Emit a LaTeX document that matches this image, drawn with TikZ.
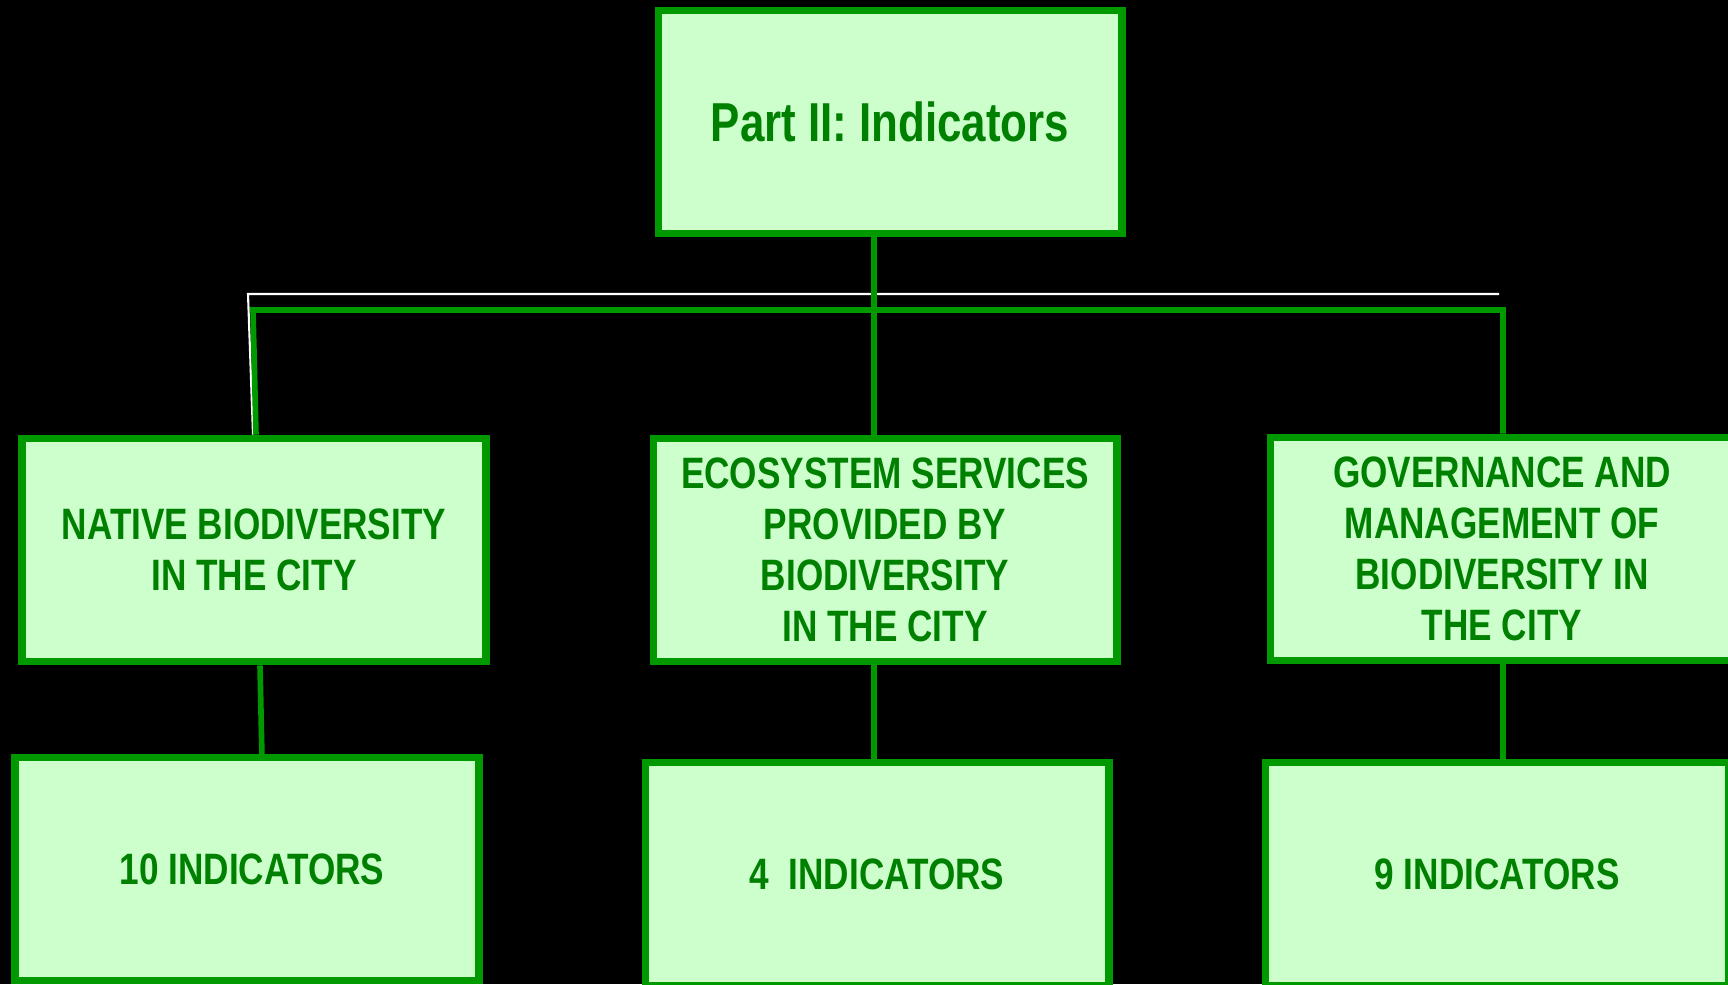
\documentclass[tikz,border=0pt]{standalone}
\usepackage{fontspec}
\newfontfamily\narrowsans{Liberation Sans}[FakeStretch=0.8]
\definecolor{boxfill}{HTML}{CCFFCC}
\definecolor{boxline}{HTML}{009900}
\definecolor{boxtext}{HTML}{008000}
\begin{document}
\begin{tikzpicture}[x=0.01cm, y=-0.01cm,
  main/.style = {draw=boxline, fill=boxfill, line width=2.2pt, minimum width=4.63cm, minimum height=2.23cm, inner sep=0pt, align=center, text=boxtext, font=\narrowsans\bfseries\fontsize{12.5}{14.5}\selectfont},
  link/.style = {draw=boxline, line width=1.6pt},
  rim/.style = {draw=white, line width=0.6pt}]
\useasboundingbox (0,0) rectangle (1728,984);
\fill[black] (0,0) rectangle (1728,984);

\node[main, font=\narrowsans\bfseries\fontsize{15.6}{18}\selectfont] (1) at (890,122) {Part II: Indicators};
\node[main] (2) at (254,550) {NATIVE BIODIVERSITY\\IN THE CITY};
\node[main] (3) at (885,550) {ECOSYSTEM SERVICES\\PROVIDED BY\\BIODIVERSITY\\IN THE CITY};
\node[main] (4) at (1502,549) {GOVERNANCE AND\\MANAGEMENT OF\\BIODIVERSITY IN\\THE CITY};
\node[main] (5) at (247,869) {\hspace{0.1cm}10 INDICATORS};
\node[main] (6) at (877,874) {4\ \ INDICATORS};
\node[main] (7) at (1497,874) {9 INDICATORS};

\coordinate (w1) at (248,294);
\coordinate (w2) at (1499,294);
\coordinate (bl) at (253,310);
\coordinate (br) at (1503,310);
\coordinate (c) at (874,310);

\draw[rim] ([xshift=-0.01cm]2.north) -- (w1) -- (w2);
\draw[link] ([xshift=0.02cm]2.north) -- (bl) -- (br) -- (4.north -| br);
\draw[link] (1.south -| c) -- (3.north -| c);
\draw[link] ([xshift=0.06cm]2.south) -- ([xshift=0.15cm, yshift=-0.05cm]5.north);
\draw[link] (3.south -| c) -- (6.north -| c);
\draw[link] (4.south -| br) -- (7.north -| br);
\end{tikzpicture}
\end{document}
